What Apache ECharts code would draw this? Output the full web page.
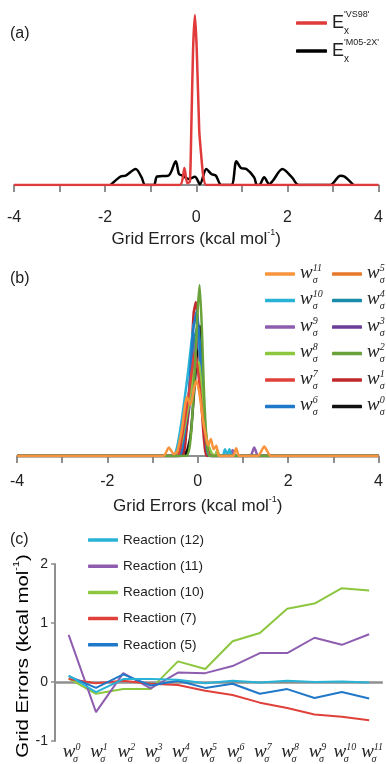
<!DOCTYPE html>
<html>
<head>
<meta charset="utf-8">
<script src="https://cdn.jsdelivr.net/npm/echarts@6/dist/echarts.min.js"></script>
<style>
  html, body { margin: 0; padding: 0; background: #fff; }
  #chart { width: 386px; height: 764px; }
</style>
</head>
<body>
<div id="chart"></div>
<script>
// ---- Panel (a): grid-error distributions of two exchange functionals ----
const exVS98 = [[-4,0],[-0.36,0],[-0.26,0.1],[-0.2,0.01],[-0.14,0.02],[-0.11,0.32],[-0.07,0.8],[-0.03,1.0],[0.01,0.8],[0.065,0.32],[0.1,0.2],[0.15,0.06],[0.22,0],[4,0]];
const exM052X = [[-1.88,0],[-1.66,0.05],[-1.55,0.055],[-1.33,0.094],[-1.2,0.045],[-1.12,0],[-0.93,0],[-0.86,0.05],[-0.61,0.055],[-0.45,0.14],[-0.38,0.065],[-0.3,0.055],[-0.17,0.035],[-0.03,0.048],[0.08,0.005],[0.22,0.094],[0.33,0.065],[0.43,0.055],[0.55,0],[0.77,0],[0.88,0.14],[0.98,0.1],[1.1,0.094],[1.27,0.045],[1.33,0],[1.38,0],[1.49,0.045],[1.6,0.005],[1.68,0.025],[1.89,0.094],[2.1,0.045],[2.25,0],[2.94,0],[3.16,0.055],[3.25,0.05],[3.45,0]];

// ---- Panel (b): distributions for each weight w_sigma^n ----
const w0Curve = [[-4,0],[-0.36,0],[-0.31,0.035],[-0.27,0.01],[-0.16,0.12],[-0.06,0.45],[0.01,0.7],[0.05,0.76],[0.1,0.45],[0.16,0.15],[0.22,0.02],[0.27,0],[4,0]];
const w1Curve = [[-4,0],[-0.36,0],[-0.26,0.12],[-0.16,0.5],[-0.09,0.84],[-0.04,0.9],[0.02,0.7],[0.08,0.32],[0.15,0.06],[0.21,0],[4,0]];
const w2Curve = [[-4,0],[-0.26,0],[-0.16,0.1],[-0.08,0.42],[-0.01,0.82],[0.04,1.0],[0.09,0.75],[0.14,0.36],[0.2,0.08],[0.27,0],[4,0]];
const w3Curve = [[-4,0],[-0.4,0],[-0.3,0.08],[-0.18,0.3],[-0.06,0.6],[0.02,0.66],[0.08,0.45],[0.16,0.15],[0.24,0.02],[0.3,0],[4,0]];
const w4Curve = [[-4,0],[-0.42,0],[-0.32,0.08],[-0.2,0.3],[-0.08,0.68],[0.0,0.76],[0.07,0.55],[0.15,0.2],[0.23,0.03],[0.3,0],[4,0]];
const w5Curve = [[-4,0],[-0.5,0],[-0.38,0.1],[-0.24,0.28],[-0.1,0.48],[-0.01,0.55],[0.07,0.38],[0.15,0.16],[0.24,0.04],[0.32,0],[4,0]];
const w6Curve = [[-4,0],[-0.42,0],[-0.31,0.1],[-0.2,0.36],[-0.1,0.74],[-0.02,0.85],[0.05,0.62],[0.12,0.26],[0.2,0.04],[0.26,0],[4,0]];
const w7Curve = [[-4,0],[-0.46,0],[-0.36,0.1],[-0.2,0.36],[-0.06,0.61],[0.02,0.46],[0.1,0.25],[0.2,0.06],[0.3,0],[4,0]];
const w8Curve = [[-4,0],[-0.48,0],[-0.36,0.08],[-0.2,0.3],[-0.06,0.52],[0.02,0.55],[0.1,0.34],[0.2,0.1],[0.3,0.02],[0.38,0],[0.43,0.035],[0.5,0],[4,0]];
const w9Curve = [[-4,0],[-0.44,0],[-0.32,0.08],[-0.18,0.32],[-0.06,0.64],[0.0,0.7],[0.06,0.5],[0.14,0.2],[0.24,0.04],[0.32,0],[0.72,0],[0.77,0.035],[0.83,0],[1.16,0],[1.25,0.05],[1.34,0],[4,0]];
const w10Curve = [[-4,0],[-0.55,0],[-0.46,0.05],[-0.36,0.2],[-0.22,0.48],[-0.09,0.77],[-0.02,0.8],[0.06,0.52],[0.16,0.16],[0.26,0.02],[0.32,0],[0.55,0],[0.6,0.04],[0.655,0.005],[0.7,0.04],[0.76,0],[4,0]];
const w11Curve = [[-4,0],[-0.76,0],[-0.64,0.05],[-0.53,0.01],[-0.45,0.03],[-0.35,0.16],[-0.24,0.345],[-0.16,0.3],[-0.08,0.4],[-0.03,0.44],[0.04,0.36],[0.11,0.22],[0.17,0.13],[0.23,0.06],[0.29,0.1],[0.35,0.04],[0.41,0.06],[0.47,0],[0.78,0],[0.85,0.045],[0.92,0],[1.33,0],[1.47,0.055],[1.62,0],[4,0]];

// ---- Panel (c): reaction errors versus weight index ----
const weightIndex = ['0','1','2','3','4','5','6','7','8','9','10','11'];
const reaction12 = [0.11,-0.17,0.05,0.05,0.04,-0.02,0.02,-0.01,0.02,0.0,0.01,-0.01];
const reaction11 = [0.80,-0.51,0.15,-0.11,0.16,0.15,0.27,0.49,0.49,0.75,0.63,0.81];
const reaction10 = [0.06,-0.2,-0.12,-0.12,0.35,0.22,0.69,0.83,1.24,1.33,1.59,1.55];
const reaction7  = [0.05,-0.02,0.02,-0.03,-0.05,-0.15,-0.22,-0.35,-0.44,-0.55,-0.59,-0.65];
const reaction5  = [0.1,-0.1,0.13,-0.06,0.02,-0.1,-0.03,-0.2,-0.12,-0.27,-0.17,-0.28];
const errorTicks = [-1, 0, 1, 2];

const SANS = 'Liberation Sans';
const SERIF = 'Liberation Serif';
const TXT = '#222';
const AX = '#8f8f8f';

// weight label: italic w with sigma subscript and index superscript stacked
const wRich = {
  w: { fontFamily: SERIF, fontStyle: 'italic', fontSize: 19, lineHeight: 22, verticalAlign: 'top', color: TXT },
  s: { fontFamily: SERIF, fontStyle: 'italic', fontSize: 10, lineHeight: 17, verticalAlign: 'bottom', width: 0, color: TXT },
  n: { fontFamily: SERIF, fontStyle: 'italic', fontSize: 10, lineHeight: 13, verticalAlign: 'top', color: TXT }
};
const wLabel = k => '{w|w}{s|σ}{n|' + k + '}';

const nameRich = {
  m: { fontFamily: SANS, fontSize: 17, color: TXT, lineHeight: 20, verticalAlign: 'bottom' },
  u: { fontFamily: SANS, fontSize: 9, color: TXT, lineHeight: 20, verticalAlign: 'top' }
};
const axisName = '{m|Grid Errors (kcal mol}{u|-1}{m|)}';

const wSpec = [
  ['w0', w0Curve, '#111111'],
  ['w4', w4Curve, '#1a8ba8'],
  ['w3', w3Curve, '#6a3d96'],
  ['w9', w9Curve, '#8e5db0'],
  ['w5', w5Curve, '#e8782a'],
  ['w1', w1Curve, '#c1272d'],
  ['w10', w10Curve, '#27b2d6'],
  ['w6', w6Curve, '#1f78c8'],
  ['w8', w8Curve, '#8dc63f'],
  ['w7', w7Curve, '#e0403a'],
  ['w2', w2Curve, '#6aa23a'],
  ['w11', w11Curve, '#f7943c']
];

const reactionSpec = [
  ['Reaction (10)', reaction10, '#8dc63f'],
  ['Reaction (11)', reaction11, '#8e5db0'],
  ['Reaction (7)', reaction7, '#e0403a'],
  ['Reaction (5)', reaction5, '#1f78c8'],
  ['Reaction (12)', reaction12, '#27b2d6']
];

function distAxis(gridIndex, labelMargin, nameGap) {
  return {
    type: 'value', gridIndex, min: -4, max: 4, interval: 2,
    axisLine: { show: true, onZero: false, lineStyle: { color: AX, width: 2 } },
    axisTick: { show: true, inside: false, length: 7, lineStyle: { color: AX, width: 2 } },
    minorTick: { show: true, splitNumber: 2, length: 7, lineStyle: { color: AX, width: 2 } },
    axisLabel: { fontFamily: SANS, fontSize: 16, color: TXT, margin: labelMargin },
    splitLine: { show: false },
    name: axisName, nameLocation: 'middle', nameGap,
    nameTextStyle: { rich: nameRich }
  };
}

const series = [];
series.push({ name: 'M05-2X', type: 'line', xAxisIndex: 0, yAxisIndex: 0, data: exM052X,
  showSymbol: false, smooth: 0.3, lineStyle: { color: '#000', width: 2.5 }, itemStyle: { color: '#000' } });
series.push({ name: 'VS98', type: 'line', xAxisIndex: 0, yAxisIndex: 0, data: exVS98,
  showSymbol: false, smooth: 0.2, lineStyle: { color: '#e03a3a', width: 2.5 }, itemStyle: { color: '#e03a3a' } });
wSpec.forEach(([name, data, color]) => {
  series.push({ name, type: 'line', xAxisIndex: 1, yAxisIndex: 1, data,
    showSymbol: false, smooth: 0.2, lineStyle: { color, width: 2.5 }, itemStyle: { color } });
});
reactionSpec.forEach(([name, data, color]) => {
  series.push({ name, type: 'line', xAxisIndex: 2, yAxisIndex: 2, data,
    showSymbol: false, lineStyle: { color, width: 2 }, itemStyle: { color } });
});

const legendBase = { orient: 'vertical', padding: 0, icon: 'roundRect', itemWidth: 30, itemHeight: 3.5 };
const panelTitle = { fontFamily: SANS, fontSize: 16, fontWeight: 'normal', color: TXT };

const option = {
  animation: false,
  backgroundColor: '#fff',
  title: [
    { text: '(a)', left: 10, top: 26, padding: 0, textStyle: panelTitle },
    { text: '(b)', left: 10, top: 271, padding: 0, textStyle: panelTitle },
    { text: '(c)', left: 10, top: 532, padding: 0, textStyle: panelTitle }
  ],
  legend: [
    Object.assign({}, legendBase, {
      data: ['VS98', 'M05-2X'], left: 296, top: 10, itemGap: 2, itemWidth: 31,
      formatter: n => '{e|E}{x|x}{t|\'' + n + '\'}',
      textStyle: { overflow: 'none', rich: {
        e: { fontFamily: SANS, fontSize: 18, lineHeight: 26, verticalAlign: 'middle', color: TXT },
        x: { fontFamily: SANS, fontSize: 10, lineHeight: 12, verticalAlign: 'bottom', width: 0, color: TXT },
        t: { fontFamily: SANS, fontSize: 9, lineHeight: 10, verticalAlign: 'top', color: TXT }
      } }
    }),
    Object.assign({}, legendBase, {
      data: ['w11', 'w10', 'w9', 'w8', 'w7', 'w6'], left: 265, top: 263, itemGap: 4.5,
      formatter: n => wLabel(n.slice(1)), textStyle: { overflow: 'none', rich: wRich }
    }),
    Object.assign({}, legendBase, {
      data: ['w5', 'w4', 'w3', 'w2', 'w1', 'w0'], left: 332, top: 263, itemGap: 4.5,
      formatter: n => wLabel(n.slice(1)), textStyle: { overflow: 'none', rich: wRich }
    }),
    Object.assign({}, legendBase, {
      data: ['Reaction (12)', 'Reaction (11)', 'Reaction (10)', 'Reaction (7)', 'Reaction (5)'],
      left: 88, top: 532, itemGap: 10.2,
      textStyle: { fontFamily: SANS, fontSize: 13.5, lineHeight: 16, color: TXT }
    })
  ],
  grid: [
    { left: 14, right: 4, top: 15, height: 170 },
    { left: 17, right: 3, top: 285, height: 171 },
    { left: 55, right: 0.5, top: 564, bottom: 21 }
  ],
  xAxis: [
    distAxis(0, 25, 43),
    distAxis(1, 18, 39),
    {
      type: 'category', gridIndex: 2, data: weightIndex, boundaryGap: true,
      axisLine: { show: false, onZero: false },
      axisTick: { show: false },
      axisLabel: { formatter: k => wLabel(k), rich: wRich, margin: 1, interval: 0, padding: [0, 0, 0, 6] },
      splitLine: { show: false }
    }
  ],
  yAxis: [
    { type: 'value', gridIndex: 0, min: 0, max: 1, show: false },
    { type: 'value', gridIndex: 1, min: 0, max: 1, show: false },
    {
      type: 'value', gridIndex: 2, min: errorTicks[0], max: errorTicks[errorTicks.length - 1], interval: 1,
      axisLine: { show: true, lineStyle: { color: AX, width: 2 } },
      axisTick: { show: true, length: 4, lineStyle: { color: AX, width: 1.5 } },
      axisLabel: { fontFamily: SANS, fontSize: 14, color: TXT, margin: 7 },
      splitLine: { show: true, lineStyle: { color: ['transparent', AX, 'transparent', 'transparent'], width: 2.5 } }
    }
  ],
  graphic: [
    {
      // y-axis title of panel (c), stretched along its reading direction
      type: 'text', x: 22, y: 656, rotation: Math.PI / 2, scaleX: 1.2, scaleY: 1,
      style: {
        text: '{m|Grid Errors (kcal mol}{u|-1}{m|)}', align: 'center', verticalAlign: 'middle',
        rich: {
          m: { fontFamily: SANS, fontSize: 17, color: TXT, lineHeight: 20, verticalAlign: 'bottom' },
          u: { fontFamily: SANS, fontSize: 9, color: TXT, lineHeight: 20, verticalAlign: 'top' }
        }
      }
    }
  ],
  series
};

const chart = echarts.init(document.getElementById('chart'), null, { renderer: 'canvas' });
chart.setOption(option);
</script>
</body>
</html>
